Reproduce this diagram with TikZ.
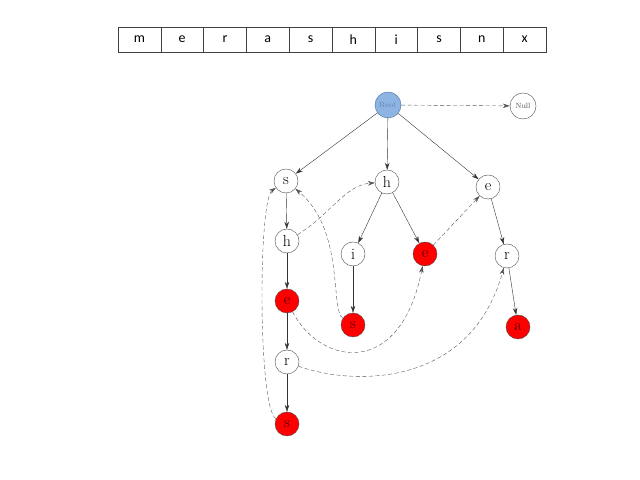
\documentclass[tikz,border=0pt]{standalone}
\usepackage{fontspec}
\newfontfamily\cellfont{Carlito}
\usetikzlibrary{arrows.meta}

\definecolor{rootblue}{HTML}{8DB4E2}
\definecolor{rootedge}{HTML}{3F6A9A}
\definecolor{linkgray}{HTML}{555555}

\tikzset{
  trienode/.style={circle, draw=black!70, fill=white, minimum size=24bp, inner sep=0pt,
    font=\fontsize{16}{18}\selectfont},
  wordend/.style={trienode, fill=red, text=black!75!red},
  cell/.style={draw=black!75, minimum width=42.8bp, minimum height=25bp, inner sep=0pt,
    font=\cellfont\fontsize{14}{16}\selectfont},
  child/.style={-{Stealth[length=7bp,width=4.5bp]}, black!80},
  faillink/.style={-{Stealth[length=7bp,width=4.5bp]}, linkgray, dashed, dash pattern=on 4bp off 2.5bp}
}

\begin{document}
\begin{tikzpicture}[x=1bp, y=1bp]

    % 1. Fix the page to the picture size
    \useasboundingbox (0,0) rectangle (640,480);

    % 2. The input string in a row of cells
    \foreach \ch [count=\k] in {m,e,r,a,s,h,i,s,n,x}
        \node[cell] (c\k) at ({118+42.8*(\k-0.5)},440.5) {\ch};

    % 3. Root and Null
    \node[circle, draw=rootedge, fill=rootblue, minimum size=26bp, inner sep=0pt,
          text=rootedge!80, font=\fontsize{7.5}{8}\selectfont] (Root) at (388,375) {Root};
    \node[trienode, minimum size=26bp, text=black!70, font=\fontsize{7.5}{8}\selectfont] (Null) at (523,374) {Null};

    % 4. The trie nodes
    \node[trienode] (S1) at (286,299) {s};
    \node[trienode] (H1) at (387,298) {h};
    \node[trienode] (E1) at (488,293) {e};
    \node[trienode] (H2) at (287,239) {h};
    \node[trienode] (I)  at (353,226) {i};
    \node[wordend]  (E2) at (425,226) {e};
    \node[trienode] (R1) at (507,224) {r};
    \node[wordend]  (E3) at (287,179) {e};
    \node[wordend]  (S2) at (353,155) {s};
    \node[wordend]  (A)  at (518,153) {a};
    \node[trienode] (R2) at (287,118) {r};
    \node[wordend]  (S3) at (287,56)  {s};

    % 5. Child edges
    \draw[child] (Root) -- (S1);
    \draw[child] (Root) -- (H1);
    \draw[child] (Root) -- (E1);
    \draw[child] (S1) -- (H2);
    \draw[child] (H2) -- (E3);
    \draw[child] (E3) -- (R2);
    \draw[child] (R2) -- (S3);
    \draw[child] (H1) -- (I);
    \draw[child] (H1) -- (E2);
    \draw[child] (I) -- (S2);
    \draw[child] (E1) -- (R1);
    \draw[child] (R1) -- (A);

    % 6. Fail links (dashed)
    \draw[faillink] (Root) -- (Null);
    \draw[faillink] (E2) -- (E1);
    \draw[faillink] (H2) .. controls (330,265) and (345,295) .. (H1);
    \draw[faillink] (S2) .. controls (330,170) and (345,250) .. (S1);
    \draw[faillink] (E3) .. controls (320,115) and (400,100) .. (E2);
    \draw[faillink] (R2) .. controls (350,95) and (470,90) .. (R1);
    \draw[faillink] (S3) .. controls (258,70) and (258,280) .. (S1);

\end{tikzpicture}
\end{document}
